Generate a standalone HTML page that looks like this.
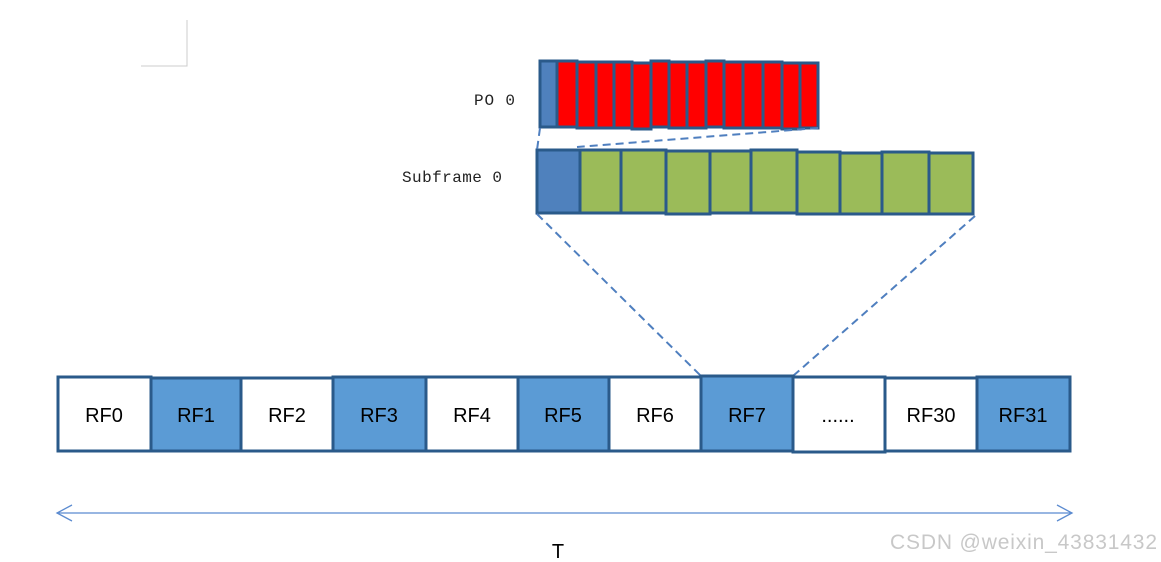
<!DOCTYPE html>
<html><head><meta charset="utf-8"><style>body{margin:0;background:#fff}svg{display:block}</style></head><body>
<svg width="1161" height="562" xmlns="http://www.w3.org/2000/svg">
<rect width="1161" height="562" fill="#fff"/>
<path d="M187 20V66H141" stroke="#ccc" fill="none"/>
<text x="474" y="105" font-family="Liberation Mono,monospace" font-size="16" fill="#222" textLength="41">PO 0</text>
<text x="402" y="182" font-family="Liberation Mono,monospace" font-size="16" fill="#222" textLength="100">Subframe 0</text>
<g stroke="#2a5a8a" stroke-width="3">
<rect x="540" y="61" width="17" height="66" fill="#4f81bd"/>
<g fill="#ff0000">
<rect x="557" y="61" width="20" height="66"/><rect x="577" y="62" width="19" height="66"/><rect x="596" y="62" width="18" height="66"/><rect x="614" y="62" width="18" height="66"/><rect x="632" y="63" width="19" height="66"/><rect x="651" y="61" width="18" height="66"/><rect x="669" y="62" width="18" height="66"/><rect x="687" y="62" width="19" height="66"/><rect x="706" y="61" width="18" height="66"/><rect x="724" y="62" width="19" height="66"/><rect x="743" y="62" width="20" height="66"/><rect x="763" y="62" width="19" height="66"/><rect x="782" y="63" width="18" height="66"/><rect x="800" y="63" width="18" height="65"/>
</g>
<rect x="537" y="150" width="43" height="63" fill="#4f81bd"/>
<g fill="#9bbb59">
<rect x="580" y="150" width="41" height="63"/><rect x="621" y="150" width="45" height="63"/><rect x="666" y="151" width="44" height="63"/><rect x="710" y="151" width="41" height="62"/><rect x="751" y="150" width="46" height="63"/><rect x="797" y="152" width="43" height="62"/><rect x="840" y="153" width="42" height="61"/><rect x="882" y="152" width="47" height="62"/><rect x="929" y="153" width="44" height="61"/>
</g>
</g>
<g stroke="#4f7fbf" stroke-width="2" stroke-dasharray="8,5" fill="none">
<path d="M540 128L537 150"/><path d="M818 128L577 147"/>
<path d="M537 214L701 376"/><path d="M975 216L793 376"/>
</g>
<g stroke="#2a5a8a" stroke-width="3">
<rect x="58" y="377" width="93" height="74" fill="#fff"/>
<rect x="151" y="378" width="90" height="73" fill="#5b9bd5"/>
<rect x="241" y="378" width="92" height="73" fill="#fff"/>
<rect x="333" y="377" width="93" height="74" fill="#5b9bd5"/>
<rect x="426" y="377" width="92" height="74" fill="#fff"/>
<rect x="518" y="377" width="91" height="74" fill="#5b9bd5"/>
<rect x="609" y="377" width="92" height="74" fill="#fff"/>
<rect x="701" y="376" width="92" height="75" fill="#5b9bd5"/>
<rect x="793" y="377" width="92" height="75" fill="#fff"/>
<rect x="885" y="378" width="92" height="73" fill="#fff"/>
<rect x="977" y="377" width="93" height="74" fill="#5b9bd5"/>
</g>
<g font-family="Liberation Sans,sans-serif" font-size="20" fill="#000" text-anchor="middle">
<text x="104" y="422">RF0</text><text x="196" y="422">RF1</text><text x="287" y="422">RF2</text><text x="379" y="422">RF3</text><text x="472" y="422">RF4</text><text x="563" y="422">RF5</text><text x="655" y="422">RF6</text><text x="747" y="422">RF7</text><text x="838" y="422">......</text><text x="931" y="422">RF30</text><text x="1023" y="422">RF31</text>
</g>
<g stroke="#5b8bd0" stroke-width="1.3" fill="none">
<path d="M57 513H1072"/><path d="M72 505L57 513L72 521"/><path d="M1057 505L1072 513L1057 521"/>
</g>
<text x="558" y="558" font-family="Liberation Sans,sans-serif" font-size="20" text-anchor="middle">T</text>
<text x="1157" y="549" font-family="Liberation Sans,sans-serif" font-size="21" fill="#c8c8c8" text-anchor="end" textLength="267">CSDN @weixin_43831432</text>
</svg>
</body></html>
